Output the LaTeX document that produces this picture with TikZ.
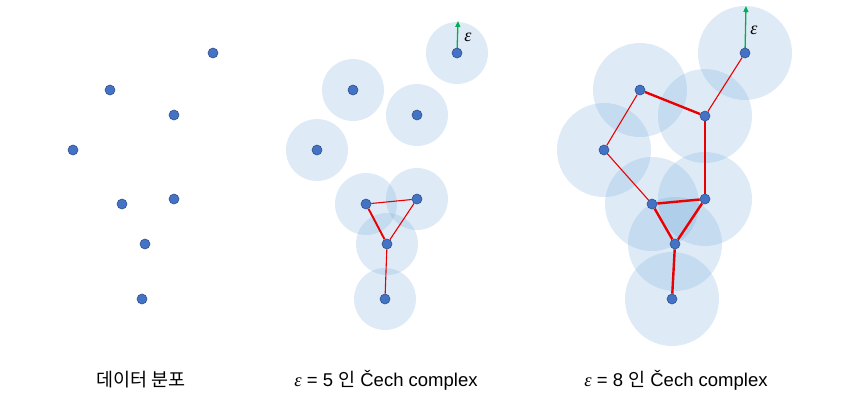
\documentclass[tikz,border=0pt]{standalone}
\usepackage{fontspec}
\setmainfont{Liberation Sans}
\newfontfamily\kr{Noto Sans CJK KR}
\newfontfamily\grk{Liberation Serif}
\usetikzlibrary{arrows.meta}
\definecolor{ptblue}{RGB}{68,114,196}
\definecolor{ptedge}{RGB}{47,82,143}
\definecolor{ballblue}{RGB}{91,155,213}
\definecolor{edgered}{RGB}{235,0,0}
\definecolor{arrgreen}{RGB}{0,176,80}
\newcommand{\epsi}{{\grk\itshape ε}}
\begin{document}
\begin{tikzpicture}[x=1pt,y=-1pt,
  pt/.style={circle,fill=ptblue,draw=ptedge,line width=0.6pt,inner sep=0pt,minimum size=10pt},
  ballS/.style={fill=ballblue,fill opacity=0.2,draw=none},
  thinedge/.style={draw=edgered,line width=1.1pt},
  thickedge/.style={draw=edgered,line width=2.4pt},
  eps/.style={-{Triangle[length=6pt,width=5pt]},draw=arrgreen,line width=1.3pt},
  lbl/.style={font=\fontsize{18.5}{22}\selectfont,anchor=center}]
\useasboundingbox (0,0) rectangle (863,400);
% ---------- left panel ----------
\node[pt] (a1) at (213,53) {};
\node[pt] (a2) at (110,90) {};
\node[pt] (a3) at (174,115) {};
\node[pt] (a4) at (73,150) {};
\node[pt] (a5) at (122,204) {};
\node[pt] (a6) at (174,199) {};
\node[pt] (a7) at (145,244) {};
\node[pt] (a8) at (142,299) {};
% ---------- middle panel ----------
\foreach \p in {(457,53),(353,90),(417,115),(317,150),(366,204),(417,199),(387,244),(385,299)}
  \fill[ballS] \p circle (31);
\coordinate (b1c) at (457,53);
\coordinate (b1t) at (458,21);
\draw[eps] (b1c) -- (b1t);
\node[pt] (b1) at (457,53) {};
\node[pt] (b2) at (353,90) {};
\node[pt] (b3) at (417,115) {};
\node[pt] (b4) at (317,150) {};
\node[pt] (b5) at (366,204) {};
\node[pt] (b6) at (417,199) {};
\node[pt] (b7) at (387,244) {};
\node[pt] (b8) at (385,299) {};
\draw[thinedge] (b5) -- (b6);
\draw[thinedge] (b6) -- (b7);
\draw[thinedge] (b7) -- (b8);
\draw[edgered,line width=1.9pt] (b5) -- (b7);
\node[font=\fontsize{18}{20}\selectfont] (e1) at (468,37) {\epsi};
% ---------- right panel ----------
\foreach \p in {(745,53),(640,90),(705,116),(604,150),(652,204),(705,199),(675,244),(672,299)}
  \fill[ballS] \p circle (47);
\coordinate (c1c) at (745,53);
\coordinate (c1t) at (746,6);
\draw[eps] (c1c) -- (c1t);
\node[pt] (c1) at (745,53) {};
\node[pt] (c2) at (640,90) {};
\node[pt] (c3) at (705,116) {};
\node[pt] (c4) at (604,150) {};
\node[pt] (c5) at (652,204) {};
\node[pt] (c6) at (705,199) {};
\node[pt] (c7) at (675,244) {};
\node[pt] (c8) at (672,299) {};
\draw[thinedge] (c1) -- (c3);
\draw[thinedge,line width=1.6pt] (c3) -- (c6);
\draw[thinedge] (c2) -- (c4);
\draw[thinedge] (c4) -- (c5);
\draw[thickedge] (c2) -- (c3);
\draw[thickedge] (c5) -- (c6);
\draw[thickedge] (c5) -- (c7);
\draw[thickedge] (c6) -- (c7);
\draw[thickedge] (c7) -- (c8);
\node[font=\fontsize{18}{20}\selectfont] (e2) at (754,30) {\epsi};
% ---------- labels ----------
\node[lbl] (t1) at (141,380) {\kr 데이터 분포};
\node[lbl] (t2) at (386,380) {\epsi{} = 5 {\kr 인} Čech complex};
\node[lbl] (t3) at (676,380) {\epsi{} = 8 {\kr 인} Čech complex};
\end{tikzpicture}
\end{document}
